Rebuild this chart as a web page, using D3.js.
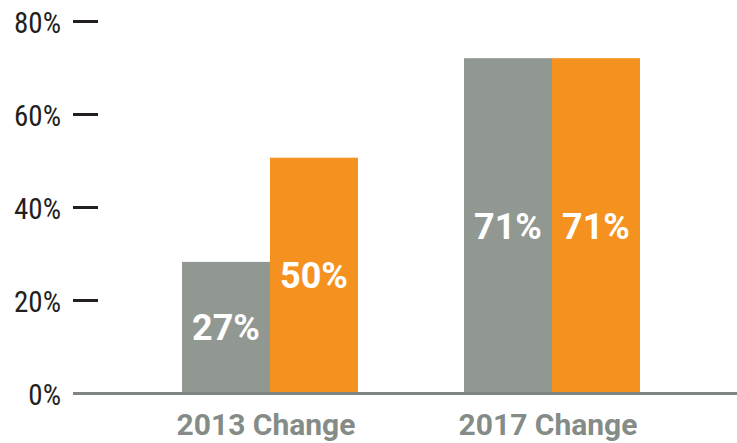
<html>
<head>
    <script src="https://d3js.org/d3.v7.min.js"></script>
    <style>
        body { margin: 0; background: #fff; }
        .y.axis .domain { display: none; }
        .y.axis line { stroke: #231f20; stroke-width: 3; }
        .y.axis text { font-family: "Liberation Sans Narrow", "Roboto Condensed", "Arial Narrow", sans-serif; font-size: 29px; fill: #231f20; }
    </style>
</head>
<body>
    <svg id="chart" width="737" height="443"></svg>
    <script>
        const categories = ["2013 Change", "2017 Change"];
        const series = ["gray", "orange"];
        const grayValues = [28.2, 72];
        const orangeValues = [50.6, 72];
        const grayLabels = ["27%", "71%"];
        const orangeLabels = ["50%", "71%"];
        const yTicks = [0, 20, 40, 60, 80];

        const colors = { gray: "#919791", orange: "#f5921f" };

        const data = [];
        categories.forEach((c, i) => {
            data.push({ cat: c, s: "gray", v: grayValues[i], label: grayLabels[i] });
            data.push({ cat: c, s: "orange", v: orangeValues[i], label: orangeLabels[i] });
        });

        const svg = d3.select("#chart");

        const y = d3.scaleLinear().domain([0, 80]).range([393, 21]);
        const x0 = d3.scaleBand().domain(categories).range([129, 693])
            .paddingInner(0.376).paddingOuter(0.188);
        const x1 = d3.scaleBand().domain(series).range([0, x0.bandwidth()]);

        // y axis with short dashes right of the labels
        svg.append("g")
            .attr("class", "y axis")
            .attr("transform", "translate(98,0)")
            .call(d3.axisLeft(y).tickValues(yTicks).tickSize(25).tickPadding(12).tickFormat(d => d + "%"))
            .selectAll("text").attr("dy", "0.4em");

        const groups = svg.append("g").selectAll("g").data(data).join("g")
            .attr("transform", d => "translate(" + (x0(d.cat) + x1(d.s)) + ",0)");

        groups.append("rect")
            .attr("x", 0)
            .attr("width", x1.bandwidth())
            .attr("y", d => y(d.v))
            .attr("height", d => y(0) - y(d.v))
            .attr("fill", d => colors[d.s]);

        groups.append("text")
            .attr("x", x1.bandwidth() / 2)
            .attr("y", d => (y(d.v) + y(0)) / 2)
            .attr("dy", "0.36em")
            .attr("text-anchor", "middle")
            .style("font-family", "Roboto, sans-serif")
            .style("font-weight", "bold")
            .style("font-size", "36px")
            .style("fill", "#fff")
            .text(d => d.label);

        // baseline
        svg.append("line")
            .attr("x1", 73).attr("x2", 737)
            .attr("y1", y(0) + 0.5).attr("y2", y(0) + 0.5)
            .attr("stroke", "#7d8681")
            .attr("stroke-width", 3);

        // category labels
        svg.append("g").selectAll("text").data(categories).join("text")
            .attr("x", d => x0(d) + x0.bandwidth() / 2 - 4)
            .attr("y", 435)
            .attr("text-anchor", "middle")
            .style("font-family", "Roboto, sans-serif")
            .style("font-weight", "bold")
            .style("font-size", "30px")
            .style("fill", "#858c87")
            .text(d => d);
    </script>
</body>
</html>
